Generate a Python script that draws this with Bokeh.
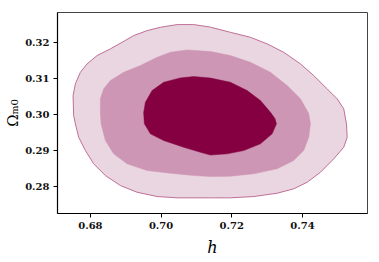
from bokeh.plotting import figure
from bokeh.models import FixedTicker, PrintfTickFormatter, Range1d
from bokeh.embed import file_html
from bokeh.resources import INLINE

# Contour boundaries (h, Omega_m0), traced clockwise
outer_h = [0.67669, 0.67576, 0.67527, 0.67510, 0.67576, 0.67717, 0.67907, 0.68190,
           0.68566, 0.68897, 0.69225, 0.69605, 0.69981, 0.70454, 0.70923, 0.71396,
           0.71962, 0.72528, 0.73001, 0.73470, 0.73943, 0.74319, 0.74699, 0.74982,
           0.75168, 0.75245, 0.75265, 0.75168, 0.74885, 0.74509, 0.74133, 0.73753,
           0.73284, 0.72621, 0.71962, 0.71396, 0.70454, 0.69888, 0.69322, 0.68849,
           0.68425, 0.68093, 0.67859]
outer_om = [0.29363, 0.29734, 0.29964, 0.30518, 0.30842, 0.31163, 0.31396, 0.31626,
            0.31812, 0.31994, 0.32180, 0.32318, 0.32410, 0.32485, 0.32485, 0.32415,
            0.32271, 0.32133, 0.31950, 0.31717, 0.31396, 0.31072, 0.30704, 0.30427,
            0.30150, 0.29734, 0.29363, 0.29086, 0.28765, 0.28393, 0.28116, 0.27934,
            0.27812, 0.27720, 0.27684, 0.27684, 0.27684, 0.27720, 0.27839, 0.28025,
            0.28302, 0.28626, 0.28995]

middle_h = [0.68303, 0.68283, 0.68283, 0.68376, 0.68566, 0.68942, 0.69415, 0.69888,
            0.70264, 0.70737, 0.71396, 0.71962, 0.72528, 0.73094, 0.73567, 0.73943,
            0.74178, 0.74226, 0.74178, 0.74036, 0.73753, 0.73284, 0.72621, 0.71962,
            0.71396, 0.70923, 0.70264, 0.69605, 0.69039, 0.68659, 0.68425]
middle_om = [0.29734, 0.30047, 0.30427, 0.30704, 0.30933, 0.31163, 0.31349, 0.31579,
             0.31717, 0.31784, 0.31737, 0.31626, 0.31440, 0.31163, 0.30795, 0.30427,
             0.30019, 0.29734, 0.29363, 0.28995, 0.28717, 0.28488, 0.28349, 0.28283,
             0.28274, 0.28302, 0.28366, 0.28440, 0.28626, 0.28903, 0.29271]

inner_h = [0.69528, 0.69508, 0.69557, 0.69746, 0.70074, 0.70547, 0.70923, 0.71396,
           0.71962, 0.72435, 0.72811, 0.73094, 0.73221, 0.73264, 0.73142, 0.72811,
           0.72338, 0.71869, 0.71396, 0.71113, 0.70640, 0.70074, 0.69698]
inner_om = [0.29734, 0.30047, 0.30332, 0.30656, 0.30886, 0.31008, 0.31044, 0.31003,
            0.30886, 0.30656, 0.30379, 0.30055, 0.29881, 0.29734, 0.29457, 0.29180,
            0.28994, 0.28903, 0.28870, 0.28947, 0.29086, 0.29271, 0.29457]

x_ticks = [0.68, 0.70, 0.72, 0.74]
y_ticks = [0.28, 0.29, 0.30, 0.31, 0.32]

p = figure(width=379, height=262, output_backend="svg", toolbar_location=None,
           x_range=Range1d(0.6707, 0.7584), y_range=Range1d(0.2725, 0.3282),
           min_border_left=57, min_border_right=12, min_border_top=12,
           min_border_bottom=49)

p.patch(outer_h, outer_om, fill_color="#EAD6E0", line_color="#BF6F97", line_width=1)
p.patch(middle_h, middle_om, fill_color="#CC96B4", line_color="#CC96B4", line_width=0.5)
p.patch(inner_h, inner_om, fill_color="#850040", line_color="#850040", line_width=0.5)

p.xgrid.visible = False
p.ygrid.visible = False
p.outline_line_color = "#444444"
p.outline_line_width = 1

p.xaxis.ticker = FixedTicker(ticks=x_ticks)
p.yaxis.ticker = FixedTicker(ticks=y_ticks)
p.xaxis.formatter = PrintfTickFormatter(format="%.2f")
p.yaxis.formatter = PrintfTickFormatter(format="%.2f")

for ax in (p.xaxis, p.yaxis):
    ax.major_label_text_font = "DejaVu Serif"
    ax.major_label_text_font_style = "bold"
    ax.major_label_text_font_size = "10px"
    ax.major_label_text_color = "#111111"
    ax.major_tick_in = 0
    ax.major_tick_out = 4
    ax.minor_tick_in = 0
    ax.minor_tick_out = 0
    ax.axis_line_color = "black"
    ax.axis_line_width = 1.2
    ax.major_tick_line_color = "black"
    ax.axis_label_text_font = "DejaVu Serif"
    ax.axis_label_text_color = "black"

p.xaxis.axis_label = "h"
p.xaxis.axis_label_text_font_size = "16px"
p.xaxis.axis_label_text_font_style = "italic"
p.xaxis.major_label_standoff = 4
p.xaxis.axis_label_standoff = 6
p.yaxis.axis_label = "Ωₘ₀"
p.yaxis.axis_label_text_font_size = "15px"
p.yaxis.axis_label_text_font_style = "normal"
p.yaxis.major_label_standoff = 4
p.yaxis.axis_label_standoff = 0

open("out.html", "w").write(file_html(p, INLINE))
